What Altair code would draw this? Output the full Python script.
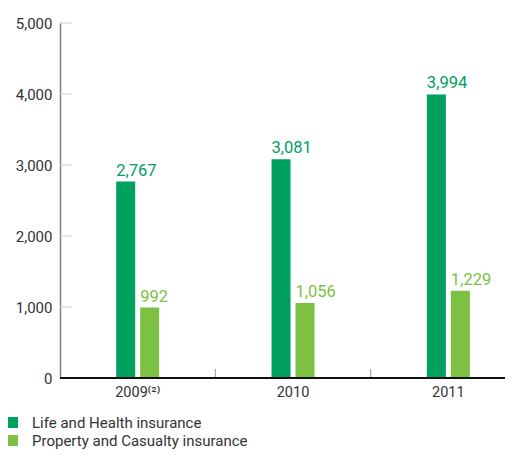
import altair as alt
import pandas as pd

years = ["2009", "2010", "2011"]
series = ["Life and Health insurance", "Property and Casualty insurance"]
life = [2767, 3081, 3994]
pc = [992, 1056, 1229]
y_ticks = [0, 1000, 2000, 3000, 4000, 5000]
colors = ["#00a05e", "#7cc142"]

rows = []
for i, y in enumerate(years):
    rows.append({"year": y, "series": series[0], "value": life[i]})
    rows.append({"year": y, "series": series[1], "value": pc[i]})
df = pd.DataFrame(rows)

FONT = "Roboto"
W, H = 445, 355

xscale = alt.Scale(domain=years, range=[0, 466], paddingInner=0, paddingOuter=0)
yscale = alt.Scale(domain=[0, 5000], nice=False)
offscale = alt.Scale(domain=series, range=[56.2, 99.2], paddingInner=0.208, paddingOuter=0)
cscale = alt.Scale(domain=series, range=colors)

x_axis = alt.Axis(
    title=None, labelAngle=0, ticks=False, domain=False, bandPosition=0.5,
    labelFont=FONT, labelFontSize=14.5, labelColor="#333", labelPadding=7,
    labelExpr="datum.value == '2009' ? '2009⁽²⁾' : datum.value",
)
y_axis = alt.Axis(
    title=None, values=y_ticks, format=",d", ticks=False, grid=False,
    domainColor="#808080", domainWidth=1.5, labelFont=FONT, labelFontSize=15,
    labelColor="#333", labelPadding=8,
)

bars = alt.Chart(df).mark_bar().encode(
    x=alt.X("year:N", scale=xscale, axis=x_axis),
    xOffset=alt.XOffset("series:N", scale=offscale, sort=series),
    y=alt.Y("value:Q", scale=yscale, axis=y_axis),
    color=alt.Color(
        "series:N", scale=cscale, sort=series,
        legend=alt.Legend(
            title=None, orient="none", legendX=-55, legendY=392, direction="vertical",
            symbolType="square", symbolSize=121, symbolStrokeWidth=0, labelFont=FONT,
            labelFontSize=15, labelColor="#333", labelOffset=12, rowPadding=2, padding=0,
            labelLimit=500,
        ),
    ),
)

labels = alt.Chart(df).mark_text(
    align="left", baseline="bottom", dx=-9.5, dy=-3, font=FONT, fontSize=16.5
).encode(
    x=alt.X("year:N", scale=xscale, axis=x_axis),
    xOffset=alt.XOffset("series:N", scale=offscale, sort=series),
    y=alt.Y("value:Q", scale=yscale, axis=y_axis),
    text=alt.Text("value:Q", format=","),
    color=alt.Color("series:N", scale=cscale, sort=series, legend=None),
)

ytick_df = pd.DataFrame({"value": y_ticks})
yticks = alt.Chart(ytick_df).mark_rule(color="#cccccc", strokeWidth=1).encode(
    y=alt.Y("value:Q", scale=yscale, axis=y_axis),
    x=alt.value(0),
    x2=alt.value(12),
)

xtick_df = pd.DataFrame({"year": years[1:]})
xticks = alt.Chart(xtick_df).mark_rule(color="#999999", strokeWidth=1).encode(
    x=alt.X("year:N", scale=xscale, bandPosition=0, axis=x_axis),
    y=alt.value(H - 9),
    y2=alt.value(H),
)

baseline = alt.Chart(ytick_df).mark_rule(color="#111111", strokeWidth=1.5).encode(
    y=alt.value(H),
    x=alt.value(0),
    x2=alt.value(W),
)

chart = alt.layer(yticks, xticks, bars, labels, baseline).properties(
    width=W, height=H,
    autosize=alt.AutoSizeParams(type="none"),
    padding={"left": 52, "top": 15, "right": 0, "bottom": 71},
).configure_view(stroke=None)

chart.save("out.html", embed_options={"renderer": "svg", "actions": False})
